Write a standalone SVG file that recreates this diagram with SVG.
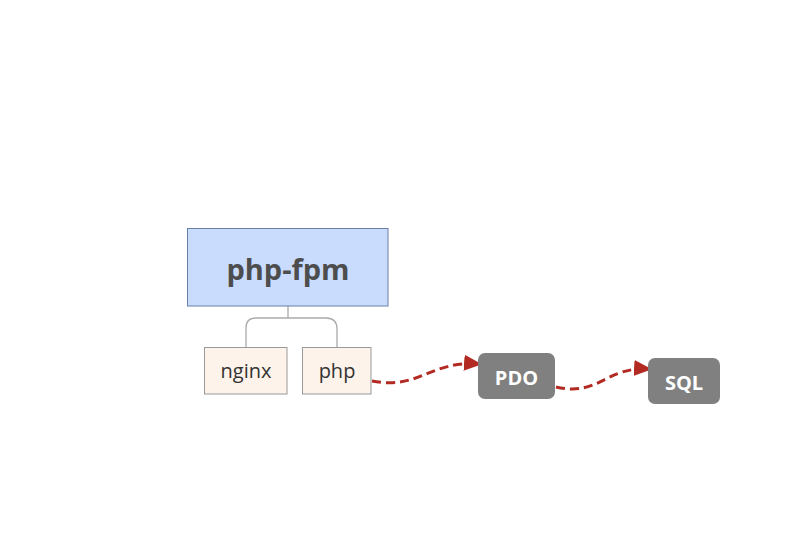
<svg xmlns="http://www.w3.org/2000/svg" width="801" height="536" viewBox="0 0 801 536">
<defs>
<style>
.t{font-family:"Open Sans","Liberation Sans",sans-serif;text-anchor:middle;dominant-baseline:central}
.sub{fill:#fdf3ea;stroke:#999;stroke-width:1}
.dark{fill:#808080}
.flow{fill:none;stroke:#b22a22;stroke-width:3;stroke-dasharray:9 5}
.tree{fill:none;stroke:#aaa;stroke-width:1.3}
</style>
<marker id="ah2" markerWidth="18" markerHeight="16" refX="16" refY="8" orient="auto" markerUnits="userSpaceOnUse" viewBox="0 0 18 16">
<path d="M0,0 L18,8 L0,16 z" fill="#b22a22"/>
</marker>
</defs>
<rect width="801" height="536" fill="#fff"/>
<g id="connectors">
<path class="tree" d="M288,306 V318 M256,318 H326 Q337,318 337,329 V347 M256,318 Q246,318 246,328 V347"/>
<path class="flow" d="M372,381 C420,390 430,360 480,364" marker-end="url(#ah2)"/>
<path class="flow" d="M556,387 C600,397 605,366 650,369" marker-end="url(#ah2)"/>
</g>
<g id="php-fpm">
<rect x="187.5" y="228.5" width="200.5" height="77.5" fill="#c9dcfd" stroke="#6a7fa8" stroke-width="1"/>
<text class="t" x="288" y="268" font-size="29" font-weight="bold" fill="#4d4d4d">php-fpm</text>
</g>
<g id="nginx">
<rect class="sub" x="204.5" y="347.5" width="82.5" height="46.5"/>
<text class="t" x="246" y="370.5" font-size="20" fill="#333">nginx</text>
</g>
<g id="php">
<rect class="sub" x="302.5" y="347.5" width="68.5" height="46.5"/>
<text class="t" x="337" y="370.5" font-size="20" fill="#333">php</text>
</g>
<g id="PDO">
<rect class="dark" x="478" y="353" width="77" height="46" rx="7"/>
<text class="t" x="516.5" y="377" font-size="20" font-weight="bold" fill="#fff">PDO</text>
</g>
<g id="SQL">
<rect class="dark" x="648" y="358" width="72" height="46" rx="7"/>
<text class="t" x="684" y="382" font-size="20" font-weight="bold" fill="#fff">SQL</text>
</g>
</svg>
